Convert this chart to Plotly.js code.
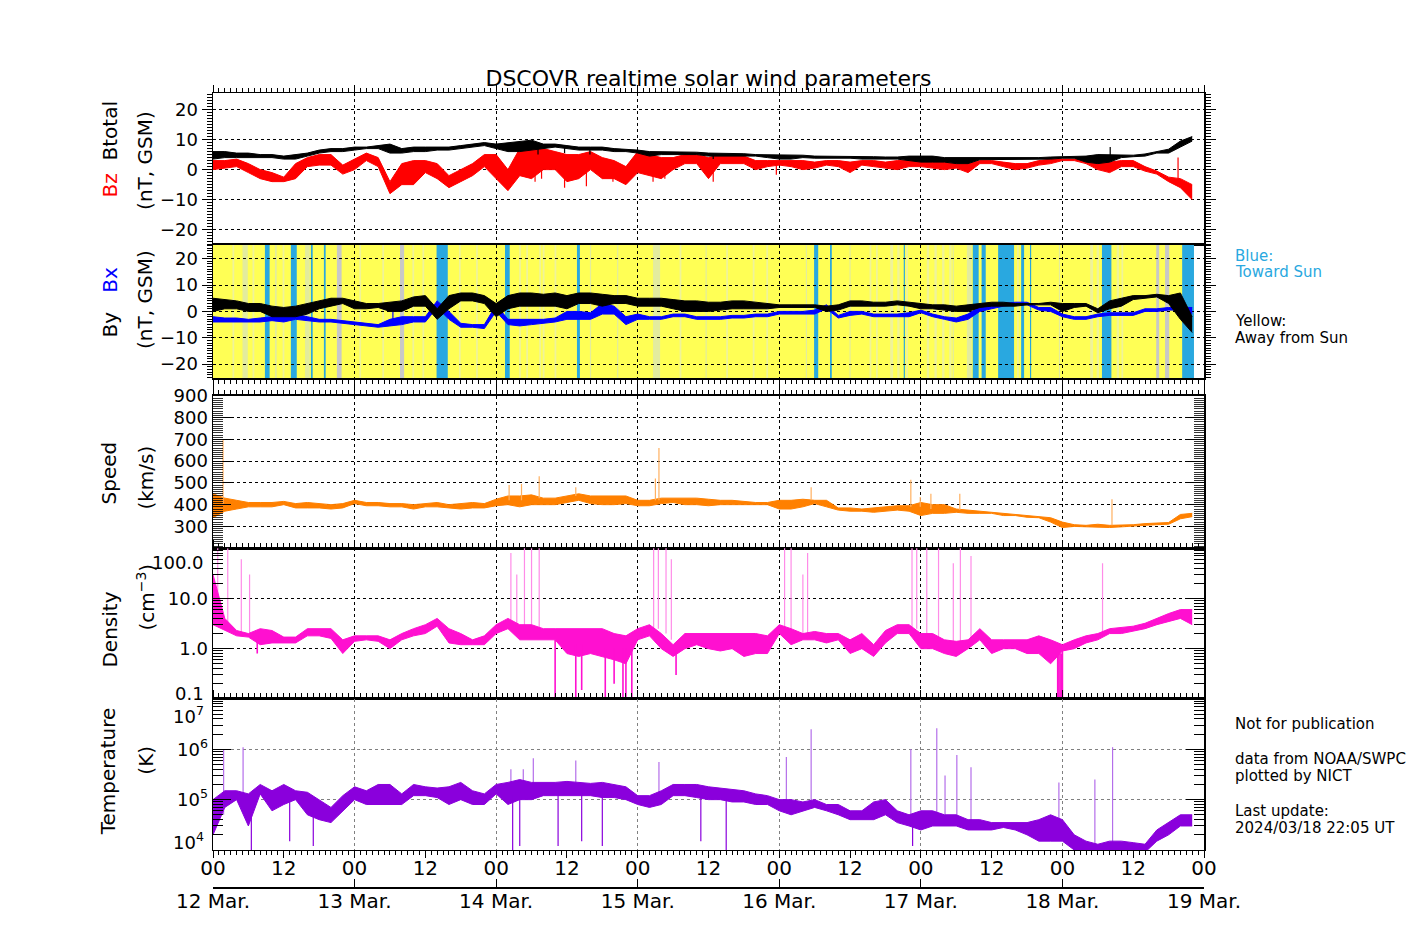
<!DOCTYPE html>
<html><head><meta charset="utf-8">
<script src="https://cdn.plot.ly/plotly-3.0.1.min.js"></script>
<style>html,body{margin:0;padding:0;background:#fff;}#chart{width:1417px;height:944px;}</style>
</head><body><div id="chart"></div>
<script>
// ---- time grid (hours after 2024-03-12 00:00 UT), 2-hour samples ----
const HOURS = [0,2,4,6,8,10,12,14,16,18,20,22, 24,26,28,30,32,34,36,38,40,42,44,46,
 48,50,52,54,56,58,60,62,64,66,68,70, 72,74,76,78,80,82,84,86,88,90,92,94,
 96,98,100,102,104,106,108,110,112,114,116,118, 120,122,124,126,128,130,132,134,136,138,140,142,
 144,146,148,150,152,154,156,158,160,162,164,166];

// ---- Btotal (nT): low / high envelope per sample ----
const BT_LO = [3.5,4,4,4,4,4,3.5,3.5,4.5,5.5,6,6, 6.5,7,7,5.5,5.5,6,6,6.5,6.5,7,7.5,8,
 7,6,6,6.5,7,7.5,7,6.5,6.5,6.5,6,6, 5.5,4.5,5,5,5,5,4.5,4.5,4.5,4.5,4.5,4,
 3.5,3.5,4,3.8,3.8,3.8,3.8,3.5,3.5,3.5,3.5,3, 2.5,2.5,2.5,2,2,3.3,3.3,3.3,3.3,3.3,3.5,3.5,
 3.8,3.8,2.5,2,2.5,4,4.3,4.5,5.5,5.5,7.5,9.5];
const BT_HI = [6,6,5.5,5.5,5,5,4.5,5,5.5,6.5,7,7, 7.5,7.5,8,8.5,7,7.5,7.5,7.5,7.5,8,8.5,9,
 8.5,9,9.5,9.8,8.5,8.5,8,7.5,7.5,7.5,7,6.8, 6.5,6,6,6,5.8,5.8,5.5,5.5,5.3,5.3,5,5,
 5,4.8,4.8,4.5,4.5,4.5,4.5,4.3,4.3,4.2,4.2,4.5, 4.5,4.5,4,4,4,4,3.8,3.8,3.8,3.8,4,4.2,
 4.3,4.5,4.5,5,5,4.8,4.8,5.2,6,6.8,9.5,11];
// ---- Bz GSM (nT) ----
const BZ_LO = [0,0.5,1,-1,-3,-4,-4,-3,1,1.5,1.5,-1.5, 0,3,1,-8,-5,-5,-1,-3,-6,-4,-2,1,
 -3,-7,-2,-3,0,0,-4,-3,0,-3,-3,-5, -1,-2,-3,0,2,2,-3,2,2,2,0,1,
 1.5,1,0,0.5,1.5,1,-1,1.5,1,0.5,0,1, 1,0.5,0,0.5,-1,2,2,1,0,0.5,1.5,2,
 3,3,2,0,-1,1,1,-0.5,-1.5,-4,-6,-10];
const BZ_HI = [3,3,3.5,2,0,-1,-2.5,2,4,5,5,1.5, 3.5,5.5,4,-4,2,3,3,2,-2,0,2,5,
 5,0,7,7,7,6,5,5,6,4,3,1, 6,5,4,4,5,5,4,5,4.5,4.5,3,3,
 3,3,3,2.5,3,3,2.5,3,3,2.5,3,3, 3,2.5,2.5,2,2,3,3,2.5,2,2,3,3.5,
 3.5,3.5,3.5,3,2.5,3,3,1,-0.5,-2.5,-3,-5];
// ---- By GSM (nT) ----
const BY_LO = [0,1,1,0,0,-2,-2,-2,-1,1,2,3, 1,1,1.5,0,0,2,2,-3,1,4,4,3,
 -2,1,2,2,2,2,1,3,3,2,3,3, 2,2,2,1,0,0,0,0.5,1,1,1,1,
 1.5,1.5,1.5,1.5,0,0.5,2,2,2,2,2.5,2, 1,1,0.5,0,0,1.5,2,2,2,2.5,2.5,2.5,
 0,1.5,2,-0.5,1,2,4.5,5,5.5,3,-3,-8];
const BY_HI = [5,4.5,4,3,3,2,1.5,2,3,4,5,5, 4,3,3,3.5,4,5.5,6,1,6,7,7,6,
 3,6,7,7,6.5,7,6,7,7,6.5,6,6, 5,5,5,4.5,4,4,3.5,3.5,4,4,3.5,3,
 2.5,2.5,2.5,2.5,2,2.5,4,4,3.5,3.5,4,3.5, 3,2.5,2.5,2,2.5,3,3.5,3.5,3,3,3,3.5,
 3,3,3,1,4,5,6,6,6.5,6,7,-2];
// ---- Bx GSM (nT) ----
const BX_LO = [-4,-4,-4,-4,-4,-3.5,-4,-3,-3.5,-4,-4,-4.5, -5,-5.5,-6,-5.5,-5,-4,-4,1.5,-3,-6,-6,-6.5,
 0,-5,-5.5,-5,-4.5,-4,-3,-3,-3,-1,-1,-5, -3,-3,-3,-2,-2,-3,-3,-3,-2.5,-2.5,-2,-2,
 -1,-1,-1,-1,1,-2.5,-1.5,-1,-2,-2,-2,-2, -0.5,-2,-3,-4,-3,0,1,2,2.5,2.5,0.5,0,
 -2,-3,-3,-2,-1.5,-1.5,-1.5,0,0,0.5,0.5,-1];
const BX_HI = [-2,-2.5,-2.5,-3,-2.5,-2,-1,-1,-2,-3,-3,-3.5, -4,-4.5,-5,-3,-2,-2,-2,4,0,-4.5,-5,-5,
 2.5,-3,-3,-3,-3,-2.5,0,0,-0.5,3,2,-2, -1,-2,-2,-1,-1,-2,-2,-2,-1.5,-1.5,-1,-1,
 0,0,0,0.5,2.5,-1.5,0,0,-1,-1,-1,-0.5, 0.5,-1,-2,-2.5,-1,2,2.5,3,3.5,3.5,1.5,1.5,
 -1,-2,-2,-1,-0.5,-0.5,-0.5,1,1,1.5,1.5,1.5];
// ---- Speed (km/s) ----
const SPD_LO = [340,370,380,390,390,390,400,385,385,385,380,385, 405,395,395,390,390,380,390,390,385,380,385,385,
 395,400,390,400,400,400,410,420,405,400,400,405, 395,395,405,410,400,400,395,400,400,400,400,400,
 380,380,390,405,390,375,370,370,365,370,375,370, 350,360,360,365,360,360,360,350,350,342,340,320,
 295,300,298,295,295,298,300,305,308,310,335,345];
const SPD_HI = [450,430,420,410,410,410,415,405,410,405,400,405, 420,410,410,405,405,400,405,410,400,405,410,405,
 425,440,440,445,430,430,440,450,440,440,440,440, 420,420,430,430,430,430,425,420,420,415,410,410,
 420,420,425,420,420,385,385,380,385,390,395,395, 410,400,400,380,375,370,368,360,358,350,348,340,
 320,308,305,310,305,306,308,313,315,318,355,360];
// ---- Density (cm^-3) ----
const DEN_LO = [3,2.3,1.8,1.7,1.2,1.3,1.3,1.3,1.8,1.8,1.6,0.8, 1.4,1.5,1.4,1,1.5,1.8,2,2.8,1.3,1.2,1.2,1.2,
 2,2.5,1.5,1.5,1.5,1.5,0.8,0.7,0.8,0.7,0.6,0.5, 1.5,1.8,1,0.7,1,1.2,1,0.9,1,0.7,0.8,0.8,
 2,1.2,1.5,1.5,1.3,1.5,0.8,1,0.7,1.3,2,2, 1,1,0.8,0.7,1,1.5,0.8,1,1,0.8,0.8,0.5,
 0.9,1,1.3,1.5,2,2,2.2,2.5,3,3.5,4,3];
const DEN_HI = [30,4,2.3,2,2.5,2.3,1.7,1.7,2.5,2.5,2.5,1.5, 1.8,1.8,1.8,1.5,2,2.5,3,4,2.5,2,1.5,1.8,
 3,4,3,3,2.5,2.5,2.5,2.5,2.5,2.5,2,1.8, 2.5,3,2,1.2,2,2,2,2,2,2,2,1.8,
 3,2.5,2,2.2,2,2,1.5,2,1.2,2.3,3,3, 2,2,1.5,1.4,1.5,2.5,1.5,1.5,1.5,1.5,1.8,1.5,
 1.2,1.5,1.8,2,2.5,2.6,2.8,3.2,4,5,6,6];
// ---- Temperature (K) ----
const TMP_LO = [2e4,7e4,1e5,3e4,1.3e5,6e4,8e4,1e5,5e4,4e4,3.5e4,6e4, 1e5,8e4,8e4,8e4,8e4,1.2e5,1.2e5,1.1e5,8e4,1e5,8e4,8e4,
 1.3e5,8e4,1e5,1e5,1.2e5,1.2e5,1.2e5,1.2e5,1.2e5,1.1e5,1.1e5,1e5, 8e4,7e4,8e4,1.2e5,1.2e5,1.1e5,1e5,1e5,9e4,9e4,8e4,8e4,
 6e4,5e4,6e4,7e4,6e4,5e4,4e4,4e4,4e4,5e4,3.5e4,3e4, 2.5e4,3e4,3e4,3e4,2.5e4,2.5e4,2.5e4,2.8e4,2.5e4,2e4,1.5e4,1.5e4,
 1.5e4,1e4,9e3,9e3,1e4,1e4,1e4,9e3,1.5e4,2e4,3e4,3e4];
const TMP_HI = [1e5,1.5e5,1.5e5,1.3e5,2e5,1.5e5,2e5,1.5e5,1.4e5,1e5,7e4,1.2e5, 1.8e5,1.5e5,2e5,2e5,1.3e5,2e5,1.8e5,1.7e5,1.8e5,2.2e5,1.5e5,1.3e5,
 2e5,2.2e5,2.5e5,2.2e5,2.2e5,2.2e5,2.3e5,2.2e5,2.1e5,2.2e5,2e5,1.8e5, 1.2e5,1.2e5,1.5e5,2e5,2e5,2e5,1.8e5,1.7e5,1.6e5,1.5e5,1.3e5,1.2e5,
 1e5,1e5,9e4,1e5,8e4,8e4,6e4,6e4,9e4,1e5,6e4,5e4, 6e4,6e4,5e4,5e4,4e4,4e4,3.5e4,3.5e4,3.5e4,3.5e4,4e4,5e4,
 4e4,2e4,1.5e4,1.3e4,1.5e4,1.5e4,1.4e4,1.3e4,2.5e4,3.5e4,5e4,5e4];

// ---- isolated spikes and dips: time (h), from value, to value ----
const BT_SPIKE_T = [55.1,59.6,63.9,84.8,152.1], BT_SPIKE_FROM = [8,8,7.5,5.3,4.5], BT_SPIKE_TO = [5,5.5,5,3.5,7.5];
const BZ_SPIKE_T = [54.6,55.7,59.6,63.3,67.8,74.6,76.6,84.8,95.5,163.6];
const BZ_SPIKE_FROM = [4,4,3,3,2,3,2,3,2,-4];
const BZ_SPIKE_TO = [-4,-3,-6,-5.5,-4,-4,-3,-4,-1.7,4];
const BX_SPIKE_T = [30.5], BX_SPIKE_FROM = [-5.5], BX_SPIKE_TO = [0];
const SPD_SPIKE_T = [1.7,50.2,52.3,55.3,61.5,75.0,75.6,101.4,118.3,119.9,121.7,126.6,152.4];
const SPD_SPIKE_FROM = [400,420,420,430,440,420,420,420,390,390,380,375,305];
const SPD_SPIKE_TO = [700,490,495,530,480,520,660,480,515,435,450,450,425];
const DEN_SPIKE_T = [0.8,2.5,4.8,6.2,50.5,51.5,52.8,54.0,55.3,74.7,75.5,76.8,77.7,96.9,98.0,100.0,100.8,118.5,119.3,121.0,123.0,125.5,126.7,128.5,150.8];
const DEN_SPIKE_FROM = [5,2.5,2,2,3,3,2.5,2.5,2,2.5,2.5,2,1.5,2.5,2,1.5,1.5,2.5,2.5,1.5,1.5,1.2,1.2,1.3,2];
const DEN_SPIKE_TO = [150,100,60,30,80,30,150,150,200,200,200,200,60,200,200,30,80,200,200,200,100,50,200,70,50];
const DEN_DIP_T = [7.5,58.0,61.5,62.5,66.5,68.0,69.5,70.0,71.0,78.5,143.2,143.4,143.6,143.8,144.0];
const DEN_DIP_FROM = [1.8,1.5,1.2,1.2,1,1,1,1,1,1,0.8,0.8,0.8,0.8,0.9];
const DEN_DIP_TO = [0.8,0.1,0.1,0.15,0.1,0.2,0.1,0.1,0.1,0.3,0.05,0.05,0.05,0.05,0.08];
const TMP_SPIKE_T = [1.8,5.1,50.5,52.6,54.3,61.5,75.6,97.2,101.4,118.3,122.7,124.1,126.1,128.5,143.4,149.5,152.5];
const TMP_SPIKE_FROM = [5e4,1e5,1.5e5,1.5e5,1.5e5,1.8e5,1e5,8e4,8e4,4e4,5e4,5e4,4e4,3e4,4e4,1.2e4,1.2e4];
const TMP_SPIKE_TO = [1e6,1.1e6,4e5,4e5,6.6e5,6e5,5.6e5,7e5,2.5e6,1e6,2.6e6,3e5,7.7e5,4.4e5,2.2e5,2.5e5,1.1e6];
const TMP_DIP_T = [6.5,13.0,17.0,50.8,52.0,58.5,62.5,66.0,82.7,87.0,118.6];
const TMP_DIP_FROM = [8e4,1e5,6e4,1.2e5,1.2e5,1.4e5,1.4e5,1.3e5,1.3e5,1.1e5,4e4];
const TMP_DIP_TO = [1e4,1.5e4,1.2e4,1e4,1.2e4,1.2e4,1.5e4,1.2e4,1.5e4,8e3,1.2e4];

// ---- IMF sector background (Bx polarity), hours ----
const SECTOR_DATA_END = 166.3;
const STRIPE_START = [3.3,6.7,11.8,24.8,28.7,33.8,35.5,41.7,44.6,51.9,53.1,55.3,55.9,57.9,79.1,87.0,91.5,93.8,111.3,112.4,114.8,116.0,117.5,121.0,122.3,123.6,124.8,136.3,148.7,149.8,153.2,154.0,
 5.0,8.8,10.5,13.2,15.6,16.6,18.8,21.0,31.7,37.9,49.5,61.7,63.9,68.5,74.6,83.5,100.5,101.9,104.6,107.9,117.1,125.4,127.8,128.8,130.3,133.1,137.0,138.5,143.4,150.7,159.9,161.4,164.3];
const STRIPE_END = [3.6,7.0,12.1,25.1,29.0,34.1,35.8,42.0,44.9,52.2,53.4,55.6,56.2,58.2,79.4,87.3,91.8,94.1,111.6,112.7,115.3,116.4,117.8,121.4,122.7,124.0,125.2,136.6,149.2,150.2,153.6,154.3,
 5.9,9.6,10.8,14.2,16.4,16.9,19.1,21.8,32.4,39.8,50.3,62.2,64.1,68.7,75.8,83.7,100.7,102.6,104.9,108.1,117.3,125.6,128.6,129.8,131.0,135.8,137.5,138.7,143.6,152.3,160.4,162.1,166.3];
const STRIPE_KIND = ['faint','faint','faint','faint','faint','faint','faint','faint','faint','faint','faint','faint','faint','faint','faint','faint',
 'faint','faint','faint','faint','faint','faint','faint','faint','faint','faint','faint','faint','faint','faint','faint','faint',
 'pale','blue','pale','blue','pale','blue','blue','gray','gray','blue','blue','blue','pale','pale','pale','pale','pale','blue','blue','pale','blue','pale','pale','blue','blue','blue','blue','blue','pale','blue','gray','gray','blue'];

// ---- tick labels ----
const DAY_TICK_HOURS = [0,24,48,72,96,120,144,168];
const DAY_LABELS = ['12 Mar.','13 Mar.','14 Mar.','15 Mar.','16 Mar.','17 Mar.','18 Mar.','19 Mar.'];

const T0 = Date.UTC(2024,2,12);
function toDate(h){ return new Date(T0 + h*3600000).toISOString().slice(0,19); }
const X = HOURS.map(toDate);
const HOUR = 3600000, DAY = 86400000;
const FONT = 'DejaVu Sans';
const C_BZ = '#FF0000', C_BX = '#0000FF', C_SPD = '#FF8000', C_DEN = '#FF10D0', C_TMP = '#8A00DC';

function band(lo, hi, color, xa, ya){
  return [
    {type:'scatter',mode:'lines',x:X,y:lo,xaxis:xa,yaxis:ya,line:{color:color,width:1},hoverinfo:'skip',showlegend:false},
    {type:'scatter',mode:'lines',x:X,y:hi,xaxis:xa,yaxis:ya,line:{color:color,width:1},fill:'tonexty',fillcolor:color,hoverinfo:'skip',showlegend:false}
  ];
}
function spikes(t, from, to, color, xa, ya, w){
  const x=[], y=[];
  t.forEach((h,i)=>{ x.push(toDate(h),toDate(h),null); y.push(from[i],to[i],null); });
  return {type:'scatter',mode:'lines',x:x,y:y,xaxis:xa,yaxis:ya,line:{color:color,width:w||1.2},hoverinfo:'skip',showlegend:false};
}

const STRIPE_COLORS = {blue:'#29A8E0', gray:'#C8C8C8', pale:'#E3EC9E', faint:'#EFF39A'};
const traces = [];
traces.push(...band(BZ_LO,BZ_HI,C_BZ,'x','y'));
traces.push(spikes(BZ_SPIKE_T,BZ_SPIKE_FROM,BZ_SPIKE_TO,C_BZ,'x','y'));
traces.push(...band(BT_LO,BT_HI,'#000','x','y'));
traces.push(spikes(BT_SPIKE_T,BT_SPIKE_FROM,BT_SPIKE_TO,'#000','x','y'));
traces.push({type:'bar',x:[toDate(SECTOR_DATA_END/2)],y:[50.6],base:[-25.3],width:[SECTOR_DATA_END*HOUR],
  marker:{color:'#FFFF55',line:{width:0}},xaxis:'x2',yaxis:'y2',hoverinfo:'skip',showlegend:false});
traces.push({type:'bar',x:STRIPE_START.map((s,i)=>toDate((s+STRIPE_END[i])/2)),y:STRIPE_START.map(()=>50.6),
  base:STRIPE_START.map(()=>-25.3),width:STRIPE_START.map((s,i)=>(STRIPE_END[i]-s)*HOUR),
  marker:{color:STRIPE_KIND.map(k=>STRIPE_COLORS[k]),line:{width:0}},xaxis:'x2',yaxis:'y2',hoverinfo:'skip',showlegend:false});
traces.push(...band(BX_LO,BX_HI,C_BX,'x8','y8'));
traces.push(spikes(BX_SPIKE_T,BX_SPIKE_FROM,BX_SPIKE_TO,C_BX,'x8','y8'));
traces.push(...band(BY_LO,BY_HI,'#000','x8','y8'));
traces.push(...band(SPD_LO,SPD_HI,C_SPD,'x3','y3'));
traces.push(spikes(SPD_SPIKE_T,SPD_SPIKE_FROM,SPD_SPIKE_TO,'#FFB060','x3','y3'));
traces.push(spikes(DEN_SPIKE_T,DEN_SPIKE_FROM,DEN_SPIKE_TO,'#FF8CE8','x4','y4'));
traces.push(...band(DEN_LO,DEN_HI,C_DEN,'x4','y4'));
traces.push(spikes(DEN_DIP_T,DEN_DIP_FROM,DEN_DIP_TO,C_DEN,'x4','y4',1.6));
traces.push(spikes(TMP_SPIKE_T,TMP_SPIKE_FROM,TMP_SPIKE_TO,'#B46EEA','x5','y5'));
traces.push(...band(TMP_LO,TMP_HI,C_TMP,'x5','y5'));
traces.push(spikes(TMP_DIP_T,TMP_DIP_FROM,TMP_DIP_TO,C_TMP,'x5','y5',1.2));
traces.push({type:'scatter',mode:'markers',x:[X[0]],y:[1e5],xaxis:'x6',yaxis:'y5',marker:{opacity:0},hoverinfo:'skip',showlegend:false});
traces.push({type:'scatter',mode:'markers',x:[X[0]],y:[1e5],xaxis:'x7',yaxis:'y5',marker:{opacity:0},hoverinfo:'skip',showlegend:false});

const XR = [toDate(0), toDate(168)];
function xax(extra){
  return Object.assign({type:'date',range:XR,showticklabels:false,tick0:toDate(0),dtick:DAY,
    ticks:'outside',ticklen:7,tickcolor:'#000',tickwidth:1,
    minor:{dtick:HOUR,tick0:toDate(0),ticks:'outside',ticklen:4,tickcolor:'#000',tickwidth:1,showgrid:false},
    showgrid:true,gridcolor:'#000',griddash:'dot',gridwidth:1,
    showline:true,linecolor:'#000',linewidth:1.5,mirror:true,zeroline:false,fixedrange:true},extra);
}
function yax(extra){
  return Object.assign({showline:true,linecolor:'#000',linewidth:1.5,mirror:'ticks',zeroline:false,
    showgrid:true,gridcolor:'#000',griddash:'dot',gridwidth:1,tickcolor:'#000',tickwidth:1,
    tickfont:{size:18,family:FONT,color:'#000'},fixedrange:true},extra);
}
function logMinor(decades){ const v=[]; decades.forEach(d=>{ for(let m=2;m<=9;m++) v.push(m*Math.pow(10,d)); }); return v; }

const D1=[0.8089,1], D2=[0.6409,0.8089], D3=[0.4267,0.6186], D4=[0.2369,0.4267], D5=[0.0466,0.2369];
const layout = {
  width:1417,height:944,margin:{l:213.3,r:213,t:93.3,b:57,pad:0},
  paper_bgcolor:'#fff',plot_bgcolor:'rgba(0,0,0,0)',showlegend:false,barmode:'overlay',
  font:{family:FONT,size:18,color:'#000'},
  title:{text:'DSCOVR realtime solar wind parameters',font:{family:FONT,size:22,color:'#000'},
    x:0.5,xanchor:'center',y:1-78/944,yanchor:'middle'},
  xaxis: xax({anchor:'y',side:'top'}),
  xaxis2: xax({anchor:'y2',side:'bottom',showgrid:false}),
  xaxis3: xax({anchor:'y3',side:'top'}),
  xaxis4: xax({anchor:'y4',side:'top'}),
  xaxis5: xax({anchor:'y5',side:'bottom',mirror:'ticks',gridcolor:'#808080'}),
  xaxis6: {type:'date',range:XR,overlaying:'x5',anchor:'free',position:0,side:'bottom',
    tickmode:'array',tickvals:DAY_TICK_HOURS.map(toDate),ticktext:DAY_LABELS,ticks:'inside',ticklen:8,
    tickcolor:'#000',showline:true,linecolor:'#000',linewidth:1.5,showgrid:false,zeroline:false,ticklabelstandoff:-5,
    tickfont:{size:20,family:FONT,color:'#000'},fixedrange:true},
  xaxis7: {type:'date',range:XR,overlaying:'x5',anchor:'y5',side:'bottom',tick0:toDate(0),dtick:12*HOUR,
    tickformat:'%H',ticks:'outside',ticklen:7,tickcolor:'#000',showline:false,showgrid:false,zeroline:false,ticklabelstandoff:-7,
    tickfont:{size:20,family:FONT,color:'#000'},fixedrange:true},
  xaxis8: {type:'date',range:XR,domain:[0,1],anchor:'y8',showline:false,ticks:'',showticklabels:false,
    tick0:toDate(0),dtick:DAY,showgrid:true,gridcolor:'#000',griddash:'dot',gridwidth:1,zeroline:false,fixedrange:true},
  yaxis: yax({domain:D1,anchor:'x',range:[-25,25.5],tick0:0,dtick:10,ticks:'outside',ticklen:10,
    minor:{dtick:1,ticks:'outside',ticklen:5,tickcolor:'#000',showgrid:false}}),
  yaxis2: yax({domain:D2,anchor:'x2',range:[-25.3,25.3],tick0:0,dtick:10,ticks:'outside',ticklen:10,showgrid:false,
    minor:{dtick:1,ticks:'outside',ticklen:5,tickcolor:'#000',showgrid:false}}),
  yaxis8: {domain:D2,anchor:'x8',range:[-25.3,25.3],tick0:0,dtick:10,showline:false,ticks:'',showticklabels:false,
    showgrid:true,gridcolor:'#000',griddash:'dot',gridwidth:1,zeroline:false,fixedrange:true},
  yaxis3: yax({domain:D3,anchor:'x3',range:[200,900],tickmode:'array',tickvals:[300,400,500,600,700,800,900],
    ticks:'inside',ticklen:18,minor:{dtick:10,ticks:'inside',ticklen:10,tickcolor:'#000',tickwidth:0.8,showgrid:false}}),
  yaxis4: yax({domain:D4,anchor:'x4',type:'log',range:[-1,2],tickmode:'array',tickvals:[1,10],ticktext:['1.0','10.0'],
    ticks:'inside',ticklen:18,minor:{tickmode:'array',tickvals:logMinor([-1,0,1]),ticks:'inside',ticklen:10,tickcolor:'#000',showgrid:false}}),
  yaxis5: yax({domain:D5,anchor:'x5',type:'log',range:[4,7],tickmode:'array',tickvals:[1e5,1e6],
    ticktext:['10<sup>5</sup>','10<sup>6</sup>'],gridcolor:'#808080',
    ticks:'inside',ticklen:18,minor:{tickmode:'array',tickvals:logMinor([4,5,6]),ticks:'inside',ticklen:10,tickcolor:'#000',showgrid:false}}),
  annotations: []
};

function px2x(px){ return (px-213.3)/990.7; }
function px2y(py){ return (887-py)/793.7; }
function ylabel(text, px, py){
  layout.annotations.push({text:text,xref:'paper',yref:'paper',x:px2x(px),y:px2y(py),xanchor:'center',yanchor:'middle',
    textangle:-90,showarrow:false,font:{size:20,family:FONT,color:'#000'}});
}
ylabel('<span style="color:#FF0000">Bz</span>\u00a0\u00a0Btotal',110,150);
ylabel('(nT, GSM)',145.5,161);
ylabel('By\u00a0\u00a0\u00a0<span style="color:#0000FF">Bx</span>',110,303);
ylabel('(nT, GSM)',145.5,300);
ylabel('Speed',109,473);
ylabel('(km/s)',146,478);
ylabel('Density',110,630);
ylabel('(cm<sup>\u22123</sup>)',146,597);
ylabel('Temperature',108,771.7);
ylabel('(K)',146,760);

function edgeLabel(text, yref, yval){
  layout.annotations.push({text:text,xref:'paper',yref:yref,x:px2x(206.5),y:yval,xanchor:'right',yanchor:'middle',
    showarrow:false,font:{size:18,family:FONT,color:'#000'}});
}
edgeLabel('100.0','y4',Math.log10(52.5));
edgeLabel('0.1','y4',Math.log10(0.13));
edgeLabel('10<sup>7</sup>','y5',6.69);
edgeLabel('10<sup>4</sup>','y5',4.17);

function sideText(text, py, color){
  layout.annotations.push({text:text,xref:'paper',yref:'paper',x:px2x(1233),y:px2y(py),xanchor:'left',yanchor:'middle',
    showarrow:false,font:{size:15,family:FONT,color:color||'#000'}});
}
sideText('Blue:',256,'#29A8E0');
sideText('Toward Sun',272.5,'#29A8E0');
sideText('Yellow:',321.5);
sideText('Away from Sun',338.5);
sideText('Not for publication',724.3);
sideText('data from NOAA/SWPC',759);
sideText('plotted by NICT',776.5);
sideText('Last update:',811);
sideText('2024/03/18 22:05 UT',828);

Plotly.newPlot('chart',traces,layout,{staticPlot:true,displayModeBar:false});
</script></body></html>
